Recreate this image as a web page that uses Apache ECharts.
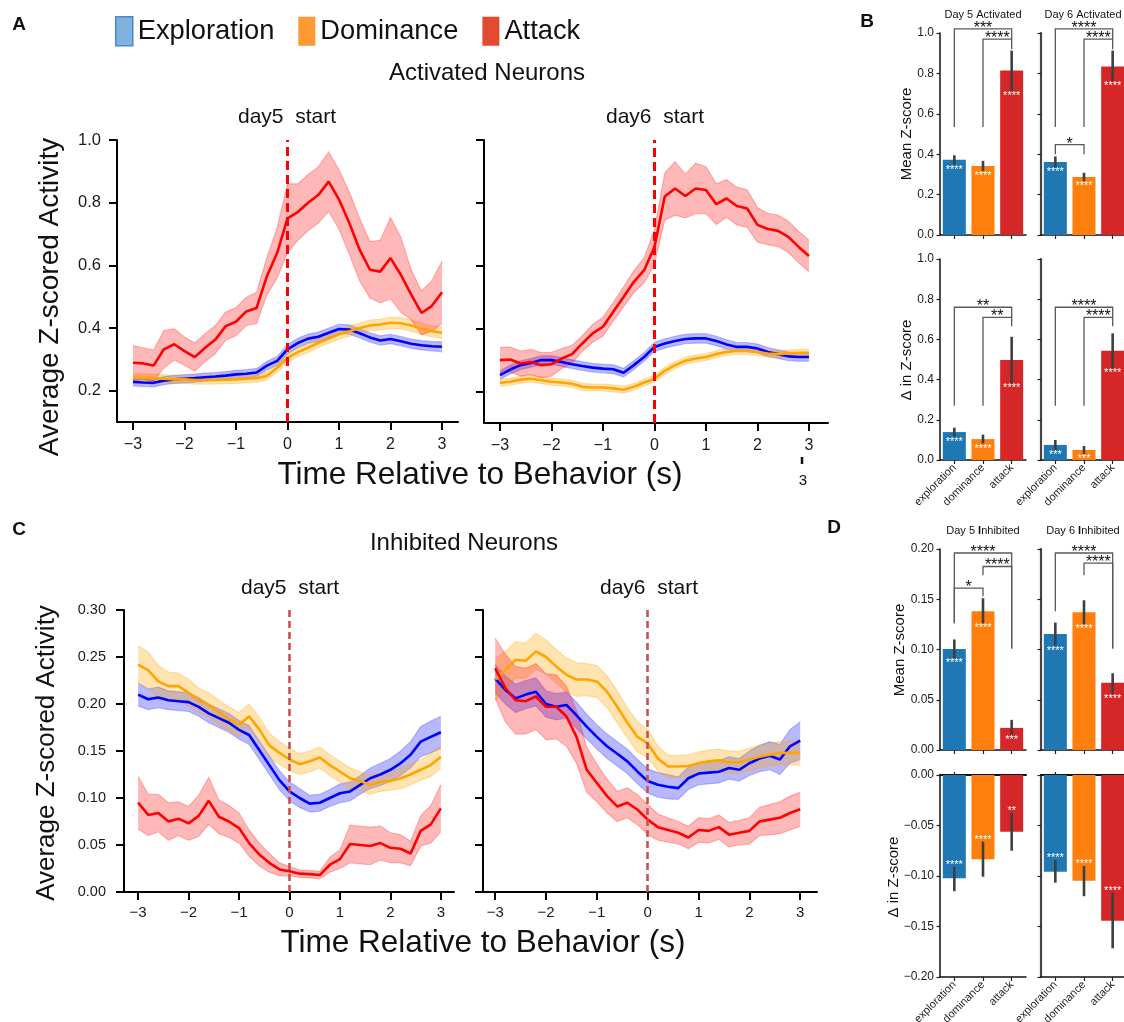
<!DOCTYPE html>
<html>
<head>
<meta charset="utf-8">
<script src="https://cdn.jsdelivr.net/npm/echarts@6/dist/echarts.min.js"></script>
<style>
  html, body { margin: 0; padding: 0; background: #fff; }
  #chart { width: 1124px; height: 1022px; }
</style>
</head>
<body>
<div id="chart"></div>
<script>
const FONT = '"Liberation Sans", Arial, Helvetica, sans-serif';

// ---------- peri-event traces (time in s relative to behaviour onset) ----------
const timeSec = [-3, -2.8, -2.6, -2.4, -2.2, -2, -1.8, -1.6, -1.4, -1.2, -1, -0.8, -0.6, -0.4, -0.2, 0,
  0.2, 0.4, 0.6, 0.8, 1, 1.2, 1.4, 1.6, 1.8, 2, 2.2, 2.4, 2.6, 2.8, 3];

// Activated neurons, day 5
const actD5ExpMean = [0.228,0.226,0.225,0.232,0.236,0.238,0.240,0.243,0.245,0.248,0.252,0.254,0.258,0.280,0.295,0.332,0.352,0.366,0.372,0.385,0.397,0.395,0.383,0.370,0.360,0.365,0.358,0.350,0.345,0.342,0.340];
const actD5ExpSem  = [0.013,0.013,0.013,0.013,0.013,0.013,0.013,0.013,0.013,0.013,0.013,0.013,0.013,0.014,0.014,0.015,0.015,0.015,0.015,0.015,0.015,0.015,0.015,0.015,0.015,0.015,0.015,0.015,0.015,0.015,0.016];
const actD5DomMean = [0.241,0.241,0.240,0.238,0.236,0.236,0.234,0.234,0.234,0.235,0.236,0.238,0.240,0.247,0.273,0.305,0.323,0.337,0.353,0.366,0.380,0.390,0.400,0.408,0.411,0.417,0.415,0.408,0.398,0.390,0.385];
const actD5DomSem  = [0.013,0.013,0.013,0.013,0.013,0.013,0.013,0.013,0.013,0.013,0.013,0.013,0.013,0.013,0.014,0.014,0.014,0.015,0.015,0.015,0.016,0.016,0.016,0.017,0.017,0.018,0.018,0.018,0.018,0.018,0.018];
const actD5AtkMean = [0.289,0.287,0.280,0.332,0.348,0.326,0.307,0.337,0.363,0.406,0.420,0.453,0.464,0.565,0.640,0.750,0.770,0.800,0.825,0.867,0.810,0.735,0.650,0.586,0.580,0.623,0.570,0.507,0.448,0.470,0.514];
const actD5AtkSem  = [0.055,0.050,0.050,0.060,0.050,0.045,0.045,0.045,0.045,0.045,0.045,0.045,0.050,0.060,0.080,0.110,0.090,0.090,0.090,0.095,0.095,0.100,0.100,0.090,0.100,0.130,0.120,0.080,0.070,0.080,0.100];

// Activated neurons, day 6
const actD6ExpMean = [0.252,0.270,0.284,0.291,0.300,0.300,0.294,0.287,0.281,0.276,0.273,0.271,0.260,0.284,0.310,0.342,0.353,0.361,0.367,0.369,0.369,0.361,0.350,0.342,0.342,0.337,0.326,0.319,0.312,0.310,0.310];
const actD6ExpSem  = [0.014,0.014,0.014,0.014,0.014,0.014,0.014,0.014,0.014,0.014,0.014,0.014,0.014,0.014,0.014,0.015,0.015,0.015,0.015,0.015,0.015,0.015,0.015,0.014,0.014,0.014,0.014,0.014,0.014,0.014,0.014];
const actD6DomMean = [0.228,0.231,0.238,0.241,0.236,0.231,0.229,0.225,0.215,0.213,0.213,0.210,0.206,0.215,0.229,0.241,0.266,0.284,0.298,0.305,0.310,0.319,0.326,0.329,0.329,0.326,0.321,0.319,0.321,0.323,0.323];
const actD6DomSem  = [0.011,0.011,0.011,0.011,0.011,0.011,0.011,0.011,0.011,0.011,0.011,0.011,0.011,0.011,0.011,0.011,0.011,0.011,0.011,0.011,0.011,0.011,0.011,0.011,0.011,0.011,0.011,0.011,0.011,0.011,0.011];
const actD6AtkMean = [0.300,0.302,0.289,0.294,0.284,0.287,0.305,0.319,0.353,0.385,0.406,0.454,0.501,0.549,0.586,0.660,0.820,0.846,0.822,0.846,0.841,0.796,0.814,0.790,0.782,0.730,0.717,0.711,0.692,0.660,0.631];
const actD6AtkSem  = [0.040,0.040,0.040,0.040,0.040,0.038,0.032,0.028,0.025,0.028,0.030,0.030,0.032,0.035,0.040,0.055,0.075,0.085,0.070,0.080,0.075,0.065,0.060,0.060,0.060,0.055,0.050,0.050,0.050,0.050,0.050];

// Inhibited neurons, day 5
const inhD5ExpMean = [0.210,0.205,0.207,0.204,0.203,0.202,0.197,0.190,0.185,0.180,0.1725,0.167,0.151,0.135,0.119,0.107,0.100,0.094,0.095,0.100,0.105,0.107,0.114,0.121,0.125,0.130,0.137,0.146,0.160,0.165,0.170];
const inhD5ExpSem  = [0.012,0.011,0.011,0.010,0.010,0.010,0.010,0.010,0.010,0.010,0.010,0.010,0.010,0.010,0.010,0.010,0.010,0.009,0.009,0.009,0.010,0.010,0.010,0.011,0.012,0.012,0.013,0.014,0.016,0.017,0.017];
const inhD5DomMean = [0.242,0.236,0.224,0.219,0.219,0.212,0.204,0.199,0.191,0.184,0.178,0.187,0.173,0.156,0.148,0.141,0.136,0.139,0.143,0.135,0.128,0.121,0.118,0.114,0.117,0.118,0.121,0.125,0.130,0.135,0.144];
const inhD5DomSem  = [0.020,0.019,0.017,0.015,0.014,0.014,0.013,0.013,0.013,0.013,0.013,0.013,0.013,0.013,0.012,0.012,0.011,0.011,0.011,0.011,0.011,0.011,0.010,0.010,0.010,0.010,0.011,0.011,0.011,0.012,0.012];
const inhD5AtkMean = [0.095,0.082,0.084,0.075,0.078,0.073,0.081,0.097,0.080,0.075,0.068,0.052,0.040,0.031,0.024,0.022,0.0195,0.019,0.018,0.029,0.035,0.051,0.050,0.049,0.052,0.047,0.046,0.041,0.065,0.072,0.089];
const inhD5AtkSem  = [0.028,0.022,0.020,0.020,0.018,0.018,0.022,0.025,0.018,0.017,0.016,0.014,0.012,0.010,0.007,0.005,0.004,0.004,0.004,0.008,0.010,0.020,0.020,0.020,0.018,0.016,0.015,0.013,0.016,0.020,0.025];

// Inhibited neurons, day 6
const inhD6ExpMean = [0.227,0.215,0.206,0.210,0.213,0.200,0.197,0.199,0.188,0.176,0.165,0.155,0.147,0.139,0.128,0.118,0.114,0.112,0.1105,0.121,0.126,0.127,0.128,0.132,0.130,0.137,0.142,0.145,0.141,0.155,0.161];
const inhD6ExpSem  = [0.015,0.015,0.015,0.015,0.015,0.014,0.014,0.014,0.014,0.013,0.013,0.013,0.013,0.013,0.013,0.013,0.013,0.013,0.012,0.012,0.012,0.012,0.012,0.012,0.012,0.013,0.014,0.015,0.016,0.018,0.020];
const inhD6DomMean = [0.226,0.236,0.247,0.246,0.256,0.250,0.240,0.231,0.226,0.226,0.224,0.213,0.197,0.180,0.165,0.158,0.142,0.1335,0.1335,0.134,0.137,0.139,0.140,0.138,0.138,0.141,0.144,0.146,0.148,0.148,0.148];
const inhD6DomSem  = [0.022,0.020,0.019,0.019,0.019,0.018,0.018,0.018,0.018,0.017,0.017,0.017,0.017,0.016,0.016,0.015,0.013,0.012,0.012,0.012,0.012,0.012,0.012,0.012,0.012,0.012,0.012,0.012,0.012,0.013,0.013];
const inhD6AtkMean = [0.238,0.217,0.204,0.203,0.208,0.197,0.197,0.187,0.165,0.130,0.116,0.102,0.091,0.095,0.0875,0.077,0.069,0.066,0.063,0.058,0.066,0.065,0.069,0.061,0.063,0.065,0.075,0.077,0.079,0.084,0.088];
const inhD6AtkSem  = [0.032,0.036,0.036,0.035,0.035,0.035,0.034,0.032,0.028,0.024,0.020,0.018,0.016,0.016,0.016,0.016,0.014,0.013,0.012,0.012,0.013,0.013,0.013,0.013,0.013,0.014,0.015,0.016,0.017,0.018,0.018];

// ---------- summary bars ----------
const barCats = ['exploration', 'dominance', 'attack'];

const meanActD5 = [0.372, 0.342, 0.814];
const meanActD5Lo = [0.348, 0.317, 0.715];
const meanActD5Hi = [0.395, 0.367, 0.913];
const meanActD5Sig = ['****', '****', '****'];
const meanActD6 = [0.362, 0.287, 0.834];
const meanActD6Lo = [0.335, 0.266, 0.761];
const meanActD6Hi = [0.389, 0.308, 0.913];
const meanActD6Sig = ['****', '****', '****'];

const deltaActD5 = [0.139, 0.104, 0.497];
const deltaActD5Lo = [0.117, 0.082, 0.382];
const deltaActD5Hi = [0.161, 0.126, 0.613];
const deltaActD5Sig = ['****', '****', '****'];
const deltaActD6 = [0.075, 0.050, 0.543];
const deltaActD6Lo = [0.050, 0.030, 0.456];
const deltaActD6Hi = [0.0995, 0.070, 0.630];
const deltaActD6Sig = ['***', '***', '****'];

const meanInhD5 = [0.1006, 0.138, 0.022];
const meanInhD5Lo = [0.0915, 0.126, 0.015];
const meanInhD5Hi = [0.110, 0.151, 0.030];
const meanInhD5Sig = ['****', '****', '***'];
const meanInhD6 = [0.1155, 0.137, 0.067];
const meanInhD6Lo = [0.104, 0.125, 0.0555];
const meanInhD6Hi = [0.1268, 0.149, 0.0764];
const meanInhD6Sig = ['****', '****', '****'];

const deltaInhD5 = [-0.1023, -0.0835, -0.0561];
const deltaInhD5Lo = [-0.115, -0.1007, -0.075];
const deltaInhD5Hi = [-0.0908, -0.066, -0.0373];
const deltaInhD5Sig = ['****', '****', '**'];
const deltaInhD6 = [-0.0957, -0.1046, -0.1443];
const deltaInhD6Lo = [-0.1066, -0.120, -0.1716];
const deltaInhD6Hi = [-0.084, -0.090, -0.1165];
const deltaInhD6Sig = ['****', '****', '****'];

// comparison brackets: [from, to, bar height, left leg end, right leg end, stars]
const bracketsMeanActD5 = [[0, 2, 1.02, 0.535, 0.97, '***'], [1, 2, 0.97, 0.535, 0.92, '****']];
const bracketsMeanActD6 = [[0, 2, 1.02, 0.535, 0.97, '****'], [1, 2, 0.97, 0.535, 0.92, '****'], [0, 1, 0.447, 0.40, 0.40, '*']];
const bracketsDeltaActD5 = [[0, 2, 0.76, 0.27, 0.71, '**'], [1, 2, 0.71, 0.27, 0.665, '**']];
const bracketsDeltaActD6 = [[0, 2, 0.76, 0.27, 0.71, '****'], [1, 2, 0.71, 0.27, 0.665, '****']];
const bracketsMeanInhD5 = [[0, 2, 0.196, 0.126, 0.101, '****'], [1, 2, 0.1826, 0.174, 0.101, '****'], [0, 1, 0.161, 0.126, 0.153, '*']];
const bracketsMeanInhD6 = [[0, 2, 0.196, 0.138, 0.101, '****'], [1, 2, 0.186, 0.174, 0.101, '****']];

// ---------- styling ----------
const C_EXP = '#0000ff', C_DOM = '#ffa500', C_ATK = '#ff0000';
const F_EXP = 'rgba(0,0,255,0.28)', F_DOM = 'rgba(255,165,0,0.3)', F_ATK = 'rgba(255,0,0,0.28)';
const E_EXP = 'rgba(0,0,255,0.22)', E_DOM = 'rgba(255,165,0,0.3)', E_ATK = 'rgba(255,0,0,0.25)';
const BAR_COLORS = ['#1f77b4', '#ff7f0e', '#d62728'];

const minus = d => v => (v < 0 ? '\u2212' : '') + Math.abs(v).toFixed(d);

const grids = [
  { left: 117, top: 140, width: 341, height: 282 },   // A day5
  { left: 484, top: 140, width: 344, height: 283 },   // A day6
  { left: 124, top: 610, width: 330, height: 282 },   // C day5
  { left: 483, top: 610, width: 334, height: 282 },   // C day6
  { left: 940, top: 33, width: 86, height: 202 },     // B mean day5
  { left: 1041, top: 33, width: 86, height: 202 },    // B mean day6
  { left: 940, top: 259, width: 86, height: 201 },    // B delta day5
  { left: 1041, top: 259, width: 86, height: 201 },   // B delta day6
  { left: 940, top: 549, width: 86, height: 201 },    // D mean day5
  { left: 1041, top: 549, width: 86, height: 201 },   // D mean day6
  { left: 940, top: 775, width: 86, height: 202 },    // D delta day5
  { left: 1041, top: 775, width: 86, height: 202 }    // D delta day6
].map(g => Object.assign({ outerBoundsMode: 'none', containLabel: false }, g));

const xTicks = [-3, -2, -1, 0, 1, 2, 3];
function timeAxis(gi, min, max, fontSize, margin) {
  return {
    type: 'value', gridIndex: gi, min, max,
    axisLine: { show: true, onZero: false, lineStyle: { color: '#000', width: 2 } },
    axisTick: { show: true, length: 8, customValues: xTicks, lineStyle: { color: '#000', width: 2 } },
    axisLabel: { customValues: xTicks, formatter: minus(0), fontSize, color: '#1a1a1a', margin, fontFamily: FONT },
    splitLine: { show: false }
  };
}
function activityAxis(gi, min, max, ticks, dec, fontSize, margin, showLabels) {
  return {
    type: 'value', gridIndex: gi, min, max,
    axisLine: { show: true, onZero: false, lineStyle: { color: '#000', width: 2 } },
    axisTick: { show: true, length: 8, customValues: ticks, lineStyle: { color: '#000', width: 2 } },
    axisLabel: { show: showLabels, customValues: ticks, formatter: minus(dec), fontSize, color: '#1a1a1a', margin, fontFamily: FONT },
    splitLine: { show: false }
  };
}
function catAxis(gi, showLabels) {
  return {
    type: 'category', gridIndex: gi, data: barCats, boundaryGap: true,
    axisLine: { show: true, onZero: false, lineStyle: { color: '#111', width: 1.5 } },
    axisTick: { show: true, alignWithLabel: true, length: 4, lineStyle: { color: '#222', width: 1.2 } },
    axisLabel: { show: showLabels, rotate: 45, interval: 0, fontSize: 11, color: '#222', margin: 6, fontFamily: FONT },
    splitLine: { show: false }
  };
}
function barValueAxis(gi, min, max, interval, dec, showLabels) {
  return {
    type: 'value', gridIndex: gi, min, max, interval,
    axisLine: { show: true, onZero: false, lineStyle: { color: showLabels ? '#111' : '#444', width: showLabels ? 1.5 : 2.2 } },
    axisTick: { show: true, length: 3.5, lineStyle: { color: '#222', width: 1.2 } },
    axisLabel: { show: showLabels, formatter: minus(dec), fontSize: 12, color: '#1a1a1a', margin: 6, fontFamily: FONT },
    splitLine: { show: false }
  };
}

const xAxes = [
  timeAxis(0, -3.31, 3.31, 16, 15),
  timeAxis(1, -3.31, 3.37, 16, 15),
  timeAxis(2, -3.28, 3.26, 15, 13),
  timeAxis(3, -3.24, 3.33, 15, 13),
  catAxis(4, false), catAxis(5, false),
  catAxis(6, true), catAxis(7, true),
  catAxis(8, false), catAxis(9, false),
  catAxis(10, true), catAxis(11, true)
];
// zero line drawn as an upper spine on the negative-valued panels
[10, 11].forEach(gi => xAxes.push({
  type: 'category', gridIndex: gi, data: barCats, position: 'top',
  axisLine: { show: true, onZero: false, lineStyle: { color: '#111', width: 2 } },
  axisTick: { show: true, alignWithLabel: true, length: 3, lineStyle: { color: '#222', width: 1.2 } },
  axisLabel: { show: false }, splitLine: { show: false }
}));

const actTicks = [0.2, 0.4, 0.6, 0.8, 1.0];
const inhTicks = [0, 0.05, 0.1, 0.15, 0.2, 0.25, 0.3];
const yAxes = [
  activityAxis(0, 0.1, 1.0, actTicks, 1, 16.5, 16, true),
  activityAxis(1, 0.1, 1.0, actTicks, 1, 16.5, 16, false),
  activityAxis(2, 0, 0.3, inhTicks, 2, 14.5, 18, true),
  activityAxis(3, 0, 0.3, inhTicks, 2, 14.5, 18, false),
  barValueAxis(4, 0, 1, 0.2, 1, true), barValueAxis(5, 0, 1, 0.2, 1, false),
  barValueAxis(6, 0, 1, 0.2, 1, true), barValueAxis(7, 0, 1, 0.2, 1, false),
  barValueAxis(8, 0, 0.2, 0.05, 2, true), barValueAxis(9, 0, 0.2, 0.05, 2, false),
  barValueAxis(10, -0.2, 0, 0.05, 2, true), barValueAxis(11, -0.2, 0, 0.05, 2, false)
];

// ---------- series builders ----------
// shaded mean ± sem band, drawn as one polygon through the axis scales
function bandSeries(gi, name, mean, sem, fill, edge) {
  return {
    name, type: 'custom', xAxisIndex: gi, yAxisIndex: gi, silent: true, clip: true,
    encode: { x: 0, y: [1, 2] },
    data: timeSec.map((t, i) => [t, mean[i] - sem[i], mean[i] + sem[i]]),
    renderItem(params, api) {
      if (params.dataIndex !== 0) return null;
      const up = timeSec.map((t, i) => api.coord([t, mean[i] + sem[i]]));
      const dn = timeSec.map((t, i) => api.coord([t, mean[i] - sem[i]]));
      return { type: 'group', children: [
        { type: 'polygon', shape: { points: up.concat(dn.slice().reverse()) }, style: { fill, stroke: null } },
        { type: 'polyline', shape: { points: up }, style: { stroke: edge, lineWidth: 1.2, fill: null } },
        { type: 'polyline', shape: { points: dn }, style: { stroke: edge, lineWidth: 1.2, fill: null } }
      ] };
    }
  };
}
function curveSeries(gi, name, mean, sem, color, fill, edge) {
  return [
    bandSeries(gi, name, mean, sem, fill, edge),
    { name, type: 'line', xAxisIndex: gi, yAxisIndex: gi, symbol: 'none', silent: true,
      data: timeSec.map((t, i) => [t, mean[i]]), lineStyle: { color, width: 2.6 }, itemStyle: { color } }
  ];
}
function onsetLine(series, color, width, dash) {
  series.markLine = {
    silent: true, symbol: ['none', 'none'], label: { show: false },
    lineStyle: { color, width, type: dash, opacity: 1 },
    emphasis: { disabled: true },
    data: [{ xAxis: 0 }]
  };
  return series;
}
function tracePanel(gi, exp, dom, atk, dashColor, dashWidth, dash) {
  const s = [].concat(
    curveSeries(gi, 'Exploration', exp[0], exp[1], C_EXP, F_EXP, E_EXP),
    curveSeries(gi, 'Dominance', dom[0], dom[1], C_DOM, F_DOM, E_DOM),
    curveSeries(gi, 'Attack', atk[0], atk[1], C_ATK, F_ATK, E_ATK)
  );
  onsetLine(s[s.length - 1], dashColor, dashWidth, dash);
  return s;
}

const center = { textAlign: 'center', textVerticalAlign: 'middle', align: 'center', verticalAlign: 'middle' };

function barPanel(gi, means, lo, hi, sig, brackets) {
  const out = [];
  out.push({
    type: 'bar', xAxisIndex: gi, yAxisIndex: gi, barWidth: 23, silent: true, z: 2,
    data: means.map((v, i) => ({ value: v, itemStyle: { color: BAR_COLORS[i] } }))
  });
  out.push({
    type: 'custom', xAxisIndex: gi, yAxisIndex: gi, z: 3, silent: true, clip: false,
    encode: { x: 0, y: [1, 2] },
    data: lo.map((l, i) => [i, l, hi[i]]),
    renderItem(params, api) {
      const i = params.dataIndex;
      const a = api.coord([i, lo[i]]), b = api.coord([i, hi[i]]);
      const inner = means[i] >= 0 ? lo[i] : hi[i];
      const p = api.coord([i, inner]);
      return { type: 'group', children: [
        { type: 'line', shape: { x1: a[0], y1: a[1], x2: b[0], y2: b[1] }, style: { stroke: '#3f3f3f', lineWidth: 2.6 } },
        { type: 'text', x: p[0], y: p[1] + (means[i] >= 0 ? 5 : -1.5),
          style: Object.assign({ text: sig[i], fill: '#ffffff', font: '11px ' + FONT }, center) }
      ] };
    }
  });
  if (brackets) {
    out.push({
      type: 'custom', xAxisIndex: gi, yAxisIndex: gi, z: 4, silent: true, clip: false,
      encode: { x: 0, y: 2 },
      data: brackets.map(b => [b[0], b[1], b[2], b[3], b[4]]),
      renderItem(params, api) {
        const b = brackets[params.dataIndex];
        const p0 = api.coord([b[0], b[3]]), p1 = api.coord([b[0], b[2]]);
        const p2 = api.coord([b[1], b[2]]), p3 = api.coord([b[1], b[4]]);
        return { type: 'group', children: [
          { type: 'polyline', shape: { points: [p0, p1, p2, p3] }, style: { stroke: '#5a5a5a', lineWidth: 1.3, fill: null } },
          { type: 'text', x: (p1[0] + p2[0]) / 2, y: p1[1] - 0.5,
            style: Object.assign({ text: b[5], fill: '#111', font: '16px ' + FONT }, center) }
        ] };
      }
    });
  }
  return out;
}

const series = [].concat(
  tracePanel(0, [actD5ExpMean, actD5ExpSem], [actD5DomMean, actD5DomSem], [actD5AtkMean, actD5AtkSem], '#ff0000', 3, [9, 5]),
  tracePanel(1, [actD6ExpMean, actD6ExpSem], [actD6DomMean, actD6DomSem], [actD6AtkMean, actD6AtkSem], '#ff0000', 3, [9, 5]),
  tracePanel(2, [inhD5ExpMean, inhD5ExpSem], [inhD5DomMean, inhD5DomSem], [inhD5AtkMean, inhD5AtkSem], '#c8504f', 2.6, [7, 4]),
  tracePanel(3, [inhD6ExpMean, inhD6ExpSem], [inhD6DomMean, inhD6DomSem], [inhD6AtkMean, inhD6AtkSem], '#c8504f', 2.6, [7, 4]),
  barPanel(4, meanActD5, meanActD5Lo, meanActD5Hi, meanActD5Sig, bracketsMeanActD5),
  barPanel(5, meanActD6, meanActD6Lo, meanActD6Hi, meanActD6Sig, bracketsMeanActD6),
  barPanel(6, deltaActD5, deltaActD5Lo, deltaActD5Hi, deltaActD5Sig, bracketsDeltaActD5),
  barPanel(7, deltaActD6, deltaActD6Lo, deltaActD6Hi, deltaActD6Sig, bracketsDeltaActD6),
  barPanel(8, meanInhD5, meanInhD5Lo, meanInhD5Hi, meanInhD5Sig, bracketsMeanInhD5),
  barPanel(9, meanInhD6, meanInhD6Lo, meanInhD6Hi, meanInhD6Sig, bracketsMeanInhD6),
  barPanel(10, deltaInhD5, deltaInhD5Lo, deltaInhD5Hi, deltaInhD5Sig, null),
  barPanel(11, deltaInhD6, deltaInhD6Lo, deltaInhD6Hi, deltaInhD6Sig, null)
);

// ---------- free text ----------
function label(text, x, y, size, opts) {
  opts = opts || {};
  return {
    type: 'text', x, y, rotation: opts.rotate ? Math.PI / 2 : 0, silent: true, z: 10,
    style: Object.assign({
      text, fill: opts.color || '#111',
      font: (opts.bold ? 'bold ' : '') + size + 'px ' + FONT,
      rich: opts.rich
    }, center)
  };
}
const boldI = { b: { fontWeight: 'bold', fontSize: 11, fontFamily: FONT, fill: '#111' } };

const graphic = [
  label('A', 19, 25, 19, { bold: true }),
  label('B', 867, 22, 19, { bold: true }),
  label('C', 19, 530, 19, { bold: true }),
  label('D', 834, 528, 19, { bold: true }),
  label('Activated Neurons', 487, 73, 24),
  label('day5  start', 287, 117, 21),
  label('day6  start', 655, 117, 21),
  label('Time Relative to Behavior (s)', 480, 475, 31.5),
  label('Average Z-scored Activity', 50, 297, 28, { rotate: true }),
  label('3', 803, 481, 15),
  { type: 'line', silent: true, shape: { x1: 802, y1: 457, x2: 802, y2: 464 }, style: { stroke: '#111', lineWidth: 2.5 } },
  label('Inhibited Neurons', 464, 543, 24),
  label('day5  start', 290, 588, 21),
  label('day6  start', 649, 588, 21),
  label('Time Relative to Behavior (s)', 483, 943, 31.5),
  label('Average Z-scored Activity', 47, 753, 26, { rotate: true }),
  label('Day 5 Activated', 983, 15, 11),
  label('Day 6 Activated', 1083, 15, 11),
  label('Day 5 {b|I}nhibited', 983, 531, 11, { rich: boldI }),
  label('Day 6 {b|I}nhibited', 1083, 531, 11, { rich: boldI }),
  label('Mean Z-score', 907, 134, 15, { rotate: true }),
  label('\u0394 in Z-score', 907, 360, 15, { rotate: true }),
  label('Mean Z-score', 900, 650, 15, { rotate: true }),
  label('\u0394 in Z-score', 894, 877, 15, { rotate: true })
];

const chart = echarts.init(document.getElementById('chart'), null, { renderer: 'canvas' });
chart.setOption({
  animation: false,
  backgroundColor: '#ffffff',
  textStyle: { fontFamily: FONT },
  legend: {
    left: 110, top: 11, itemWidth: 17, itemHeight: 29, itemGap: 24, icon: 'rect',
    selectedMode: false,
    textStyle: { fontSize: 27.3, color: '#111', fontFamily: FONT },
    data: [
      { name: 'Exploration', itemStyle: { color: '#7fb2de', borderColor: '#4a88c7', borderWidth: 1.5 } },
      { name: 'Dominance', itemStyle: { color: '#ff9933', borderWidth: 0 } },
      { name: 'Attack', itemStyle: { color: '#e34a2f', borderWidth: 0 } }
    ]
  },
  grid: grids,
  xAxis: xAxes,
  yAxis: yAxes,
  series,
  graphic
});
</script>
</body>
</html>
